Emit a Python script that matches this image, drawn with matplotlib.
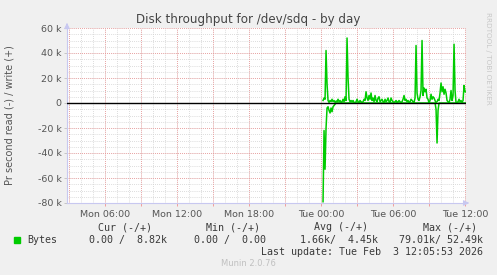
import numpy as np
import matplotlib
matplotlib.use("Agg")
import matplotlib.pyplot as plt

nan = float("nan")

# 5 minute samples from Tue 00:00, values in k bytes/s
write_k = [nan, nan, 2, 4, 3, 42, 15, 2, 0.5, 2,
           1, 3, 1, 2, 0.5, 1.5, 1, 3, 1, 2,
           0.5, 1, 3, 1, 5, 2, 52, 20, 3, 1,
           2, 1, 2, 0.5, 0, 1, 3, 1, 0.5, 2,
           1, 0.5, 1, 3, 2, 9, 4, 2, 6, 3,
           8, 2, 4, 1, 6, 2, 1, 4, 5, 1,
           2, 3, 1, 0.5, 3, 1, 2, 4, 1, 0.5,
           4, 2, 1, 0.5, 1, 2, 0.5, 1, 2, 1,
           0.5, 1, 3, 6, 2, 3, 1, 2, 0.5, 1,
           3, 2, 1, 0.5, 4, 46, 8, 3, 2, 5,
           10, 50, 6, 12, 9, 11, 4, 3, 0, 2,
           7, 3, 5, 4, 2, 0, 1, 3, 2, 8,
           16, 9, 13, 7, 11, 8, 2, 1, 0, 3,
           10, 2, 6, 47, 10, 0, 0.5, 1, 3, 1,
           2, 0.5, 2, 14, 9, 8.8]
read_k = [nan, nan, 79, 22, 53, 20, 4, 3, 6, 8, 4, 7, 3, 2, 1] + [0] * 100 + [5, 32, 6] + [0] * 28

tick_hours = [-18, -15, -12, -9, -6, -3, 0, 3, 6, 9, 12]
tick_labels = ['Mon 06:00', '', 'Mon 12:00', '', 'Mon 18:00', '', 'Tue 00:00', '', 'Tue 06:00', '', 'Tue 12:00']
ytick_vals = [-80, -60, -40, -20, 0, 20, 40, 60]
ytick_labels = ['-80 k', '-60 k', '-40 k', '-20 k', '0', '20 k', '40 k', '60 k']

hours = np.arange(len(write_k)) * 5 / 60.0
green = '#00cc00'
W, H = 497, 275

fig = plt.figure(figsize=(W / 100, H / 100), dpi=100, facecolor='#f0f0f0')
ax = fig.add_axes([67 / W, 1 - 203 / H, 399 / W, 175 / H], facecolor='white')

ax.plot(hours, -np.array(read_k, dtype=float), color=green, lw=1.1)
ax.plot(hours, np.array(write_k, dtype=float), color=green, lw=1.1)
ax.axhline(0, color='black', lw=1, zorder=5)

ax.set_xlim(-21.17, 12.08)
ax.set_ylim(-80, 60)

# minor grid
for h in np.arange(-21, 13, 1):
    ax.axvline(h, color='#d0d0d0', lw=0.6, ls=(0, (1, 1.5)), zorder=0)
for v in np.arange(-80, 61, 5):
    ax.axhline(v, color='#d0d0d0', lw=0.6, ls=(0, (1, 1.5)), zorder=0)
# major grid
for h in tick_hours + [-21]:
    ax.axvline(h, color='#ee9090', lw=0.6, ls=(0, (1, 1.5)), zorder=1)
for v in ytick_vals:
    ax.axhline(v, color='#ee9090', lw=0.6, ls=(0, (1, 1.5)), zorder=1)

ax.set_xticks(tick_hours)
ax.set_xticklabels(tick_labels)
ax.set_yticks(ytick_vals)
ax.set_yticklabels(ytick_labels)
ax.tick_params(axis='both', labelsize=6.8, colors='#555555', length=2, width=0.6)
ax.tick_params(axis='x', colors='#f09090', labelcolor='#555555', pad=3)
ax.tick_params(axis='y', colors='#c0c0c0', labelcolor='#555555', pad=2)
for side in ['top', 'right']:
    ax.spines[side].set_visible(False)
for side in ['left', 'bottom']:
    ax.spines[side].set_color('#c8c8f0')
    ax.spines[side].set_linewidth(0.8)
# axis arrows
ax.annotate('', xy=(1.015, 0), xycoords='axes fraction', xytext=(0.995, 0),
            arrowprops=dict(arrowstyle='-|>', color='#c8c8f0', lw=0.8, mutation_scale=8))
ax.annotate('', xy=(0, 1.045), xycoords='axes fraction', xytext=(0, 1.0),
            arrowprops=dict(arrowstyle='-|>', color='#c8c8f0', lw=0.8, mutation_scale=8))

def ftxt(x, y, s, **kw):
    fig.text(x / W, 1 - y / H, s, **kw)

ftxt(248, 19, 'Disk throughput for /dev/sdq - by day', ha='center', va='center',
     fontsize=8.6, color='#444444')
ftxt(10, 115, 'Pr second read (-) / write (+)', ha='center', va='center',
     rotation=90, fontsize=7, color='#555555')
ftxt(488, 58, 'RRDTOOL / TOBI OETIKER', ha='center', va='center', rotation=270,
     fontsize=5.2, color='#c8c8c8')

mono = dict(family='DejaVu Sans Mono', fontsize=7.2, color='#3a3a3a', va='center')
ftxt(125, 227, 'Cur (-/+)', ha='center', **mono)
ftxt(233, 227, 'Min (-/+)', ha='center', **mono)
ftxt(341, 227, 'Avg (-/+)', ha='center', **mono)
ftxt(450, 227, 'Max (-/+)', ha='center', **mono)
fig.patches.append(plt.Rectangle((14 / W, 1 - 243 / H), 6 / W, 6 / H,
                                 transform=fig.transFigure, color=green))
ftxt(27, 240, 'Bytes', ha='left', **mono)
ftxt(167, 240, '0.00 /  8.82k', ha='right', **mono)
ftxt(266, 240, '0.00 /  0.00', ha='right', **mono)
ftxt(378, 240, '1.66k/  4.45k', ha='right', **mono)
ftxt(483, 240, '79.01k/ 52.49k', ha='right', **mono)
ftxt(483, 252, 'Last update: Tue Feb  3 12:05:53 2026', ha='right', **mono)
ftxt(248, 264, 'Munin 2.0.76', ha='center', va='center', fontsize=6, color='#c0c0c0')

fig.savefig('out.png', dpi=100, facecolor=fig.get_facecolor())
